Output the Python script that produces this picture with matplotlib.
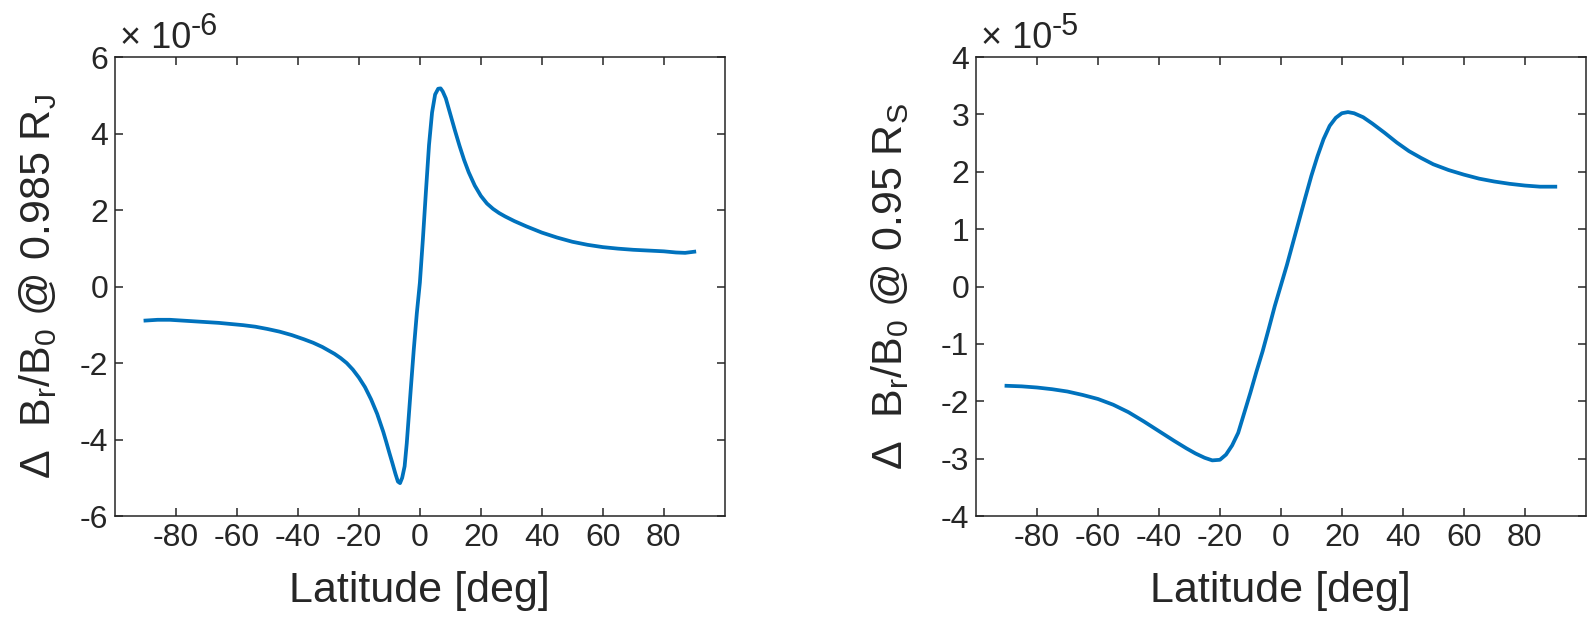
import matplotlib
matplotlib.use("Agg")
import matplotlib.pyplot as plt

plt.rcParams["font.family"] = ["Liberation Sans", "DejaVu Sans"]
plt.rcParams["mathtext.fontset"] = "custom"
plt.rcParams["mathtext.rm"] = "Liberation Sans"
plt.rcParams["mathtext.it"] = "Liberation Sans"
plt.rcParams["mathtext.default"] = "regular"
plt.rcParams["axes.unicode_minus"] = False

# Jupiter, 0.985 R_J  (values in units of 1e-6)
lat_j = [-90, -86, -82, -78, -74, -70, -66, -62, -58, -54, -50, -46, -42, -38,
         -35, -32, -30, -28, -26, -24, -22, -20, -18, -16, -14, -12, -11,
         -10, -9, -8, -7.2, -6.5, -5.8, -5, -4.3, -3.6, -3, -2, -1, 0, 1, 2, 3,
         4, 5, 6, 6.8, 7.5, 8.5, 10, 11.5, 13, 14.5, 16, 18, 20, 22, 24, 26, 28,
         31, 35, 40, 45, 50, 55, 60, 65, 70, 75, 80, 84, 87, 90]
dbr_j = [-0.89, -0.87, -0.87, -0.89, -0.91, -0.93, -0.95, -0.98, -1.01, -1.05,
         -1.11, -1.18, -1.27, -1.38, -1.47, -1.58, -1.67, -1.76, -1.87, -2.00,
         -2.17, -2.38, -2.63, -2.95, -3.33, -3.80, -4.07, -4.35, -4.62, -4.90,
         -5.10, -5.14, -5.00, -4.70, -4.10, -3.35, -2.70, -1.65, -0.70, 0.10,
         1.25, 2.50, 3.70, 4.55, 5.02, 5.17, 5.18, 5.10, 4.92, 4.50, 4.08, 3.68,
         3.31, 2.99, 2.64, 2.37, 2.17, 2.03, 1.92, 1.83, 1.71, 1.57, 1.41, 1.28,
         1.17, 1.09, 1.03, 0.99, 0.96, 0.94, 0.92, 0.89, 0.88, 0.91]

# Saturn, 0.95 R_S  (values in units of 1e-5)
lat_s = [-90, -85, -80, -75, -70, -65, -60, -55, -50, -45, -40, -35, -31, -28,
         -25, -22.5, -20, -18, -16, -14, -12, -10, -8, -6, -4, -2, 0, 2, 4, 6,
         8, 10, 12, 14, 16, 18, 20, 22, 24, 27, 30, 34, 38, 42, 46, 50, 55, 60,
         65, 70, 75, 80, 85, 90]
dbr_s = [-1.73, -1.74, -1.76, -1.79, -1.83, -1.89, -1.96, -2.06, -2.19, -2.35,
         -2.52, -2.69, -2.82, -2.91, -2.985, -3.03, -3.02, -2.93, -2.77, -2.55,
         -2.20, -1.85, -1.48, -1.13, -0.74, -0.34, 0.02, 0.38, 0.77, 1.16, 1.55,
         1.93, 2.27, 2.57, 2.80, 2.94, 3.02, 3.04, 3.02, 2.95, 2.84, 2.68, 2.51,
         2.36, 2.24, 2.13, 2.03, 1.95, 1.88, 1.83, 1.79, 1.76, 1.74, 1.74]

xticks = [-80, -60, -40, -20, 0, 20, 40, 60, 80]
INK = "#262626"

panels = [
    (lat_j, dbr_j, (-6, 6), range(-6, 7, 2), "-6",
     r"$\Delta$  B$_r$/B$_0$ @ 0.985 R$_J$", 0.0724, 15),
    (lat_s, dbr_s, (-4, 4), range(-4, 5, 1), "-5",
     r"$\Delta$  B$_r$/B$_0$ @ 0.95 R$_S$", 0.6146, 21),
]

fig = plt.figure(figsize=(15.88, 6.23), dpi=100)
for lat, val, ylim, yt, exp, ylab, x0, lpad in panels:
    ax = fig.add_axes([x0, 0.1717, 0.3840, 0.7368])
    ax.plot(lat, val, color="#0072BD", lw=2.7)
    ax.set_xlim(-100, 100)
    ax.set_ylim(*ylim)
    ax.set_xticks(xticks)
    ax.set_yticks(list(yt))
    ax.tick_params(direction="in", length=6, width=1.1, colors=INK,
                   labelsize=23, top=True, right=True, pad=5)
    for s in ax.spines.values():
        s.set_color(INK)
        s.set_linewidth(1.1)
    ax.set_xlabel("Latitude [deg]", fontsize=31, color=INK, labelpad=13)
    ax.set_ylabel(ylab, fontsize=31, color=INK, labelpad=lpad)
    t = ax.text(0.008, 1.02, "\u00d7 10", transform=ax.transAxes,
                fontsize=26, color=INK, va="baseline", ha="left")
    ax.annotate(exp, xy=(1.0, 0.6), xycoords=t, fontsize=22, color=INK,
                va="baseline", ha="left", annotation_clip=False)

fig.savefig("out.png", dpi=100)
